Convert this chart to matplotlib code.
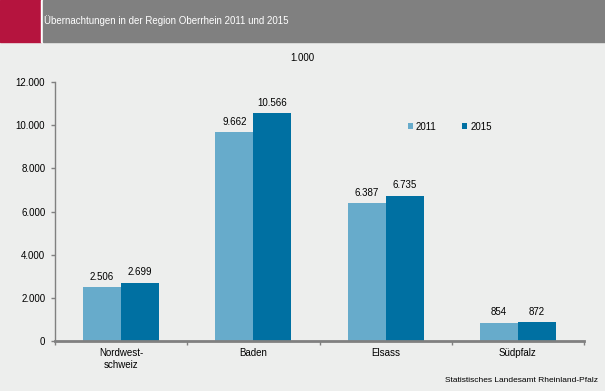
import matplotlib.pyplot as plt
import matplotlib.patches as mpatches
import numpy as np

plt.rcParams['font.family'] = ['Liberation Sans', 'DejaVu Sans']

regionen = ['Nordwest-\nschweiz', 'Baden', 'Elsass', 'Südpfalz']
werte_2011 = [2506, 9662, 6387, 854]
werte_2015 = [2699, 10566, 6735, 872]
y_ticks = [0, 2000, 4000, 6000, 8000, 10000, 12000]

farbe_2011 = '#67abcb'
farbe_2015 = '#0070a2'
hintergrund = '#edeeed'


def de_zahl(v):
    # Tausenderpunkt wie im Original
    return f"{int(v):,}".replace(',', '.')


fig = plt.figure(figsize=(6.05, 3.91), dpi=100, facecolor=hintergrund)

# Kopfzeile: roter Block, weisser Strich, grauer Balken
fig.patches.append(mpatches.Rectangle((0, 1 - 42 / 391), 41 / 605, 42 / 391,
                                      transform=fig.transFigure, color='#b5143e', zorder=0))
fig.patches.append(mpatches.Rectangle((41 / 605, 1 - 42 / 391), 2 / 605, 42 / 391,
                                      transform=fig.transFigure, color='white', zorder=0))
fig.patches.append(mpatches.Rectangle((43 / 605, 1 - 42 / 391), 1 - 43 / 605, 42 / 391,
                                      transform=fig.transFigure, color='#808080', zorder=0))
fig.text(44 / 605, 1 - 21 / 391, 'Übernachtungen in der Region Oberrhein 2011 und 2015',
         color='white', fontsize=7, va='center', ha='left')

ax = fig.add_axes([55 / 605, 1 - 341 / 391, 529 / 605, 259 / 391])
ax.set_facecolor(hintergrund)

x = np.arange(len(regionen))
b = 0.287
balken1 = ax.bar(x - b / 2, werte_2011, b, color=farbe_2011, label='2011', zorder=2)
balken2 = ax.bar(x + b / 2, werte_2015, b, color=farbe_2015, label='2015', zorder=2)

for bars, werte in [(balken1, werte_2011), (balken2, werte_2015)]:
    for r, v in zip(bars, werte):
        ax.text(r.get_x() + r.get_width() / 2, v + 250, de_zahl(v),
                ha='center', va='bottom', fontsize=7, color='black')

ax.set_xlim(-0.5, len(regionen) - 0.5)
ax.set_ylim(0, 12000)
ax.set_yticks(y_ticks)
ax.set_yticklabels([de_zahl(v) for v in y_ticks], fontsize=7)
ax.set_xticks(x)
ax.set_xticklabels(regionen, fontsize=7)
# Teilstriche zwischen den Kategorien
ax.set_xticks(np.arange(-0.5, len(regionen), 1), minor=True)
ax.tick_params(axis='y', length=3, color='#808080', width=1, pad=4)
ax.tick_params(axis='x', which='major', length=0, pad=5)
ax.tick_params(axis='x', which='minor', length=3, color='#808080', width=1)

for s in ['top', 'right']:
    ax.spines[s].set_visible(False)
ax.spines['left'].set_color('#808080')
ax.spines['left'].set_linewidth(1)
ax.spines['bottom'].set_color('#808080')
ax.spines['bottom'].set_linewidth(2)

ax.legend(loc='upper left', bbox_to_anchor=(0.65, 0.88), ncol=2, frameon=False,
          fontsize=7, handlelength=0.55, handleheight=0.55, handletextpad=0.3,
          columnspacing=2.6)

fig.text(302 / 605, 1 - 58 / 391, '1.000', fontsize=7, ha='center', va='center')
fig.text(598 / 605, 1 - 380 / 391, 'Statistisches Landesamt Rheinland-Pfalz',
         fontsize=6, ha='right', va='center')

fig.savefig('out.png', dpi=100, facecolor=hintergrund)
